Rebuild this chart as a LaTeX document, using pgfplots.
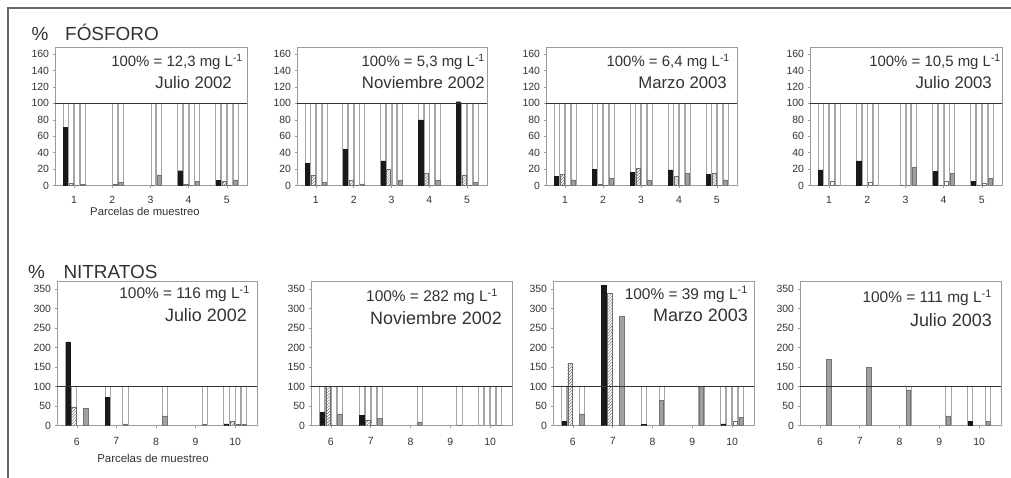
\documentclass[border=0pt]{standalone}
\usepackage{fontspec}
\setmainfont{Liberation Sans}
\usepackage{pgfplots}
\pgfplotsset{compat=1.18}
\usepackage{pgfplotstable}
\usetikzlibrary{patterns}

\definecolor{bgline}{RGB}{165,165,165}
\definecolor{framec}{RGB}{155,155,155}
\definecolor{barblack}{RGB}{25,25,25}
\definecolor{bargray}{RGB}{160,160,160}
\definecolor{bargrayline}{RGB}{115,115,115}
\definecolor{hatchc}{RGB}{110,110,110}
\definecolor{txt}{RGB}{50,50,50}

% A = black, B = hatched, C = white, D = gray ; bX = 100% background bars
\pgfplotstableread{
x A B C D bA bB bC bD
1 71 3 0 1 100 100 100 100
2 nan nan 1 4 nan nan 100 100
3 nan nan 0 13 nan nan 100 100
4 18 2 0 5 100 100 100 100
5 6 5 0 7 100 100 100 100
}\PA
\pgfplotstableread{
x A B C D bA bB bC bD
1 27 12 0 4 100 100 100 100
2 44 7 0 2 100 100 100 100
3 30 20 0 6 100 100 100 100
4 80 15 0 6 100 100 100 100
5 102 12 0 4 100 100 100 100
}\PB
\pgfplotstableread{
x A B C D bA bB bC bD
1 11 14 0 7 100 100 100 100
2 20 2 0 9 100 100 100 100
3 16 21 0 6 100 100 100 100
4 19 11 0 15 100 100 100 100
5 14 15 0 7 100 100 100 100
}\PC
\pgfplotstableread{
x A B C D bA bB bC bD
1 19 0 5 0 100 100 100 100
2 30 0 4 0 100 100 100 100
3 nan 0 0 22 nan 100 100 100
4 17 0 5 15 100 100 100 100
5 5 0 3 9 100 100 100 100
}\PD
\pgfplotstableread{
x A B C D bA bB bC bD
6 215 48 nan 45 100 100 nan nan
7 73 nan nan 5 100 nan nan 100
8 nan nan nan 25 nan nan nan 100
9 nan nan nan 3 nan nan nan 100
10 5 12 3 3 100 100 100 100
}\NA
\pgfplotstableread{
x A B C D bA bB bC bD
6 35 100 0 30 100 100 100 100
7 27 15 0 18 100 100 100 100
8 nan nan nan 10 nan nan nan 100
9 nan nan nan 2 nan nan nan 100
10 0 0 0 0 100 100 100 100
}\NB
\pgfplotstableread{
x A B C D bA bB bC bD
6 12 160 nan 30 100 100 nan 100
7 360 340 nan 280 nan nan nan nan
8 3 nan nan 65 100 nan nan 100
9 nan nan nan 100 nan nan nan 100
10 5 0 12 22 100 100 100 100
}\NC
\pgfplotstableread{
x A B C D bA bB bC bD
6 nan nan nan 170 nan nan nan nan
7 nan nan nan 150 nan nan nan nan
8 nan nan nan 90 nan nan nan 100
9 nan nan nan 25 nan nan nan 100
10 12 nan nan 12 100 nan nan 100
}\ND

\pgfplotsset{
  panel/.style={scale only axis, anchor=north west,
    axis line style={framec, line width=0.7bp},
    tick pos=left, tick align=outside, major tick length=2.5bp,
    tick style={framec, line width=0.5bp},
    ticklabel style={font=\fontsize{10.5}{11}\selectfont, text=txt},
    /pgf/number format/assume math mode=true,
    ymin=0},
  prow/.style={panel, height=138bp, ymax=168, ytick={0,20,...,160},
    xmin=0.5, xmax=5.53, xtick={1,...,5}, xticklabel style={yshift=-5bp}},
  nrow/.style={panel, height=144bp, ymax=369, ytick={0,50,...,350},
    xmin=5.5, xmax=10.55, xtick={6,...,10}, xticklabel style={yshift=-6bp}},
  bgbar/.style={ybar, bar width=0.13, fill=white, draw=bgline, line width=0.6bp},
  vA/.style={ybar, bar width=0.11, fill=barblack, draw=barblack, line width=0.4bp},
  vB/.style={ybar, bar width=0.11, draw=hatchc, pattern=north east lines, pattern color=hatchc, line width=0.4bp},
  vC/.style={ybar, bar width=0.11, fill=white, draw=hatchc, line width=0.5bp},
  vD/.style={ybar, bar width=0.11, fill=bargray, draw=bargrayline, line width=0.5bp},
  line100/.style={black!80, line width=1.1bp},
}

\newcommand{\panelbars}[1]{%
  \addplot[bgbar, bar shift=-0.225] table[x=x,y=bA]{#1};
  \addplot[bgbar, bar shift=-0.075] table[x=x,y=bB]{#1};
  \addplot[bgbar, bar shift=0.075] table[x=x,y=bC]{#1};
  \addplot[bgbar, bar shift=0.225] table[x=x,y=bD]{#1};
  \addplot[vA, bar shift=-0.225] table[x=x,y=A]{#1};
  \addplot[vB, bar shift=-0.075] table[x=x,y=B]{#1};
  \addplot[vC, bar shift=0.075] table[x=x,y=C]{#1};
  \addplot[vD, bar shift=0.225] table[x=x,y=D]{#1};
}

\newcommand{\lineone}[4]{\node[anchor=base east, inner sep=0, text=txt, font=\fontsize{#3}{#3}\selectfont] at (#1bp,-#2bp) {#4};}

\begin{document}
\begin{tikzpicture}
\path[use as bounding box] (0bp,0bp) rectangle (1011bp,-478bp);
\draw[line width=1.5bp, black!60] (8bp,-478bp) -- (8bp,-8bp) -- (1011bp,-8bp);

% ---------------- FOSFORO ----------------
\begin{axis}[prow, at={(55bp,-47.5bp)}, width=192bp]
\panelbars{\PA}
\addplot[line100] coordinates {(0.5,100) (5.53,100)};
\end{axis}
\begin{axis}[prow, at={(297bp,-47.5bp)}, width=190bp]
\panelbars{\PB}
\addplot[line100] coordinates {(0.5,100) (5.53,100)};
\end{axis}
\begin{axis}[prow, at={(546bp,-47.5bp)}, width=191bp]
\panelbars{\PC}
\addplot[line100] coordinates {(0.5,100) (5.53,100)};
\end{axis}
\begin{axis}[prow, at={(810bp,-47.5bp)}, width=192bp]
\panelbars{\PD}
\addplot[line100] coordinates {(0.5,100) (5.53,100)};
\end{axis}

% ---------------- NITRATOS ----------------
\begin{axis}[nrow, at={(57bp,-281.7bp)}, width=200bp]
\panelbars{\NA}
\addplot[line100] coordinates {(5.5,100) (10.55,100)};
\end{axis}
\begin{axis}[nrow, at={(311bp,-281.7bp)}, width=201bp]
\panelbars{\NB}
\addplot[line100] coordinates {(5.5,100) (10.55,100)};
\end{axis}
\begin{axis}[nrow, at={(553bp,-281.7bp)}, width=201bp]
\panelbars{\NC}
\addplot[line100] coordinates {(5.5,100) (10.55,100)};
\end{axis}
\begin{axis}[nrow, at={(800bp,-281.7bp)}, width=201bp]
\panelbars{\ND}
\addplot[line100] coordinates {(5.5,100) (10.55,100)};
\end{axis}

% headings
\node[anchor=base west, inner sep=0, text=txt, font=\fontsize{19}{19}\selectfont] at (31.5bp,-40.7bp) {\%};
\node[anchor=base west, inner sep=0, text=txt, font=\fontsize{19}{19}\selectfont] at (65bp,-40.7bp) {FÓSFORO};
\node[anchor=base west, inner sep=0, text=txt, font=\fontsize{19}{19}\selectfont] at (28bp,-278.3bp) {\%};
\node[anchor=base west, inner sep=0, text=txt, font=\fontsize{19}{19}\selectfont] at (63.3bp,-278.3bp) {NITRATOS};

% axis titles
\node[anchor=base, inner sep=0, text=txt, font=\fontsize{11.3}{12}\selectfont] at (145bp,-215bp) {Parcelas de muestreo};
\node[anchor=base, inner sep=0, text=txt, font=\fontsize{11.5}{12}\selectfont] at (153bp,-462bp) {Parcelas de muestreo};

% panel texts
\lineone{243}{66.7}{15}{100\% = 12,3 mg L\textsuperscript{-1}}
\lineone{232}{88.3}{16.8}{Julio 2002}
\lineone{485}{66.7}{15}{100\% = 5,3 mg L\textsuperscript{-1}}
\lineone{485}{88.3}{16.8}{Noviembre 2002}
\lineone{730}{66.7}{15}{100\% = 6,4 mg L\textsuperscript{-1}}
\lineone{727}{88.3}{16.8}{Marzo 2003}
\lineone{1001}{66.7}{15}{100\% = 10,5 mg L\textsuperscript{-1}}
\lineone{992}{88.3}{16.8}{Julio 2003}

\lineone{250}{298.3}{15.5}{100\% = 116 mg L\textsuperscript{-1}}
\lineone{247}{321.7}{18}{Julio 2002}
\lineone{498}{301.7}{15.5}{100\% = 282 mg L\textsuperscript{-1}}
\lineone{502}{324}{18}{Noviembre 2002}
\lineone{748}{299}{15.5}{100\% = 39 mg L\textsuperscript{-1}}
\lineone{748}{321.7}{18}{Marzo 2003}
\lineone{992}{302.7}{15.5}{100\% = 111 mg L\textsuperscript{-1}}
\lineone{992}{326}{18}{Julio 2003}
\end{tikzpicture}
\end{document}
